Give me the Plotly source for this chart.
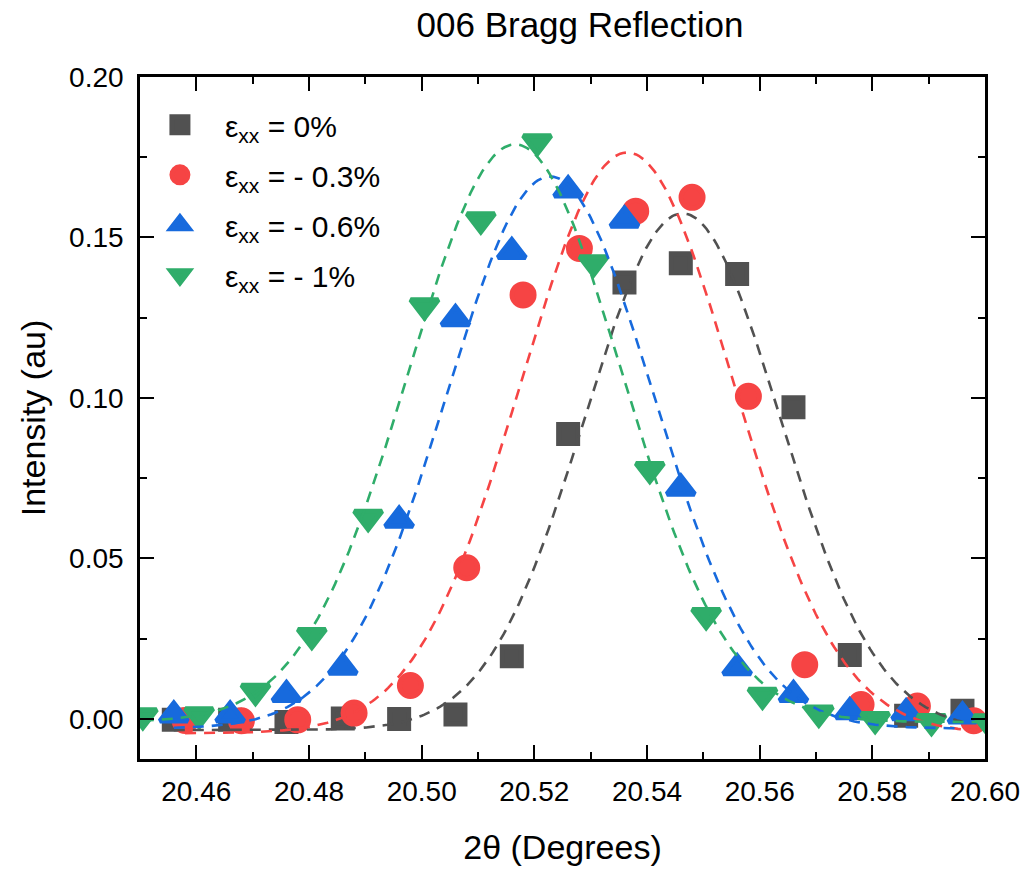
import numpy as np
import plotly.graph_objects as go

# ---------------- data ----------------
x_gray = [20.456, 20.466, 20.476, 20.486, 20.496, 20.506, 20.516, 20.526,
          20.536, 20.546, 20.556, 20.566, 20.576, 20.586, 20.596]
y_gray = [-0.0003, -0.0003, -0.0010, 0.0001, 0.0000, 0.0014, 0.0195, 0.0888,
          0.1360, 0.1420, 0.1386, 0.0971, 0.0199, 0.0010, 0.0025]

x_red = [20.458, 20.468, 20.478, 20.488, 20.498, 20.508, 20.518, 20.528,
         20.538, 20.548, 20.558, 20.568, 20.578, 20.588, 20.598]
y_red = [-0.0005, -0.0006, -0.0003, 0.0018, 0.0104, 0.0471, 0.1321, 0.1466,
         0.1582, 0.1625, 0.1005, 0.0169, 0.0045, 0.0040, -0.0006]

x_blue = [20.456, 20.466, 20.476, 20.486, 20.496, 20.506, 20.516, 20.526,
          20.536, 20.546, 20.556, 20.566, 20.576, 20.586, 20.596]
y_blue = [0.0012, 0.0012, 0.0076, 0.0161, 0.0619, 0.1247, 0.1456, 0.1648,
          0.1554, 0.0719, 0.0159, 0.0076, 0.0022, 0.0019, 0.0009]

x_green = [20.4505, 20.4605, 20.4705, 20.4805, 20.4905, 20.5005, 20.5105, 20.5205,
           20.5305, 20.5405, 20.5505, 20.5605, 20.5705, 20.5805, 20.5905, 20.6005]
y_green = [0.0010, 0.0013, 0.0086, 0.0260, 0.0628, 0.1287, 0.1555, 0.1798,
           0.1421, 0.0777, 0.0322, 0.0074, 0.0018, -0.0002, -0.0008, -0.0009]

series_names = ["ε<sub>xx</sub> = 0%", "ε<sub>xx</sub> = - 0.3%",
                "ε<sub>xx</sub> = - 0.6%", "ε<sub>xx</sub> = - 1%"]

# Gaussian fit parameters (baseline y0, amplitude A, centre xc, sigma)
fit_y0 = [-0.0035, -0.0045, -0.0030, -0.0010]
fit_A = [0.161, 0.181, 0.172, 0.180]
fit_xc = [20.5463, 20.5365, 20.5228, 20.5166]
fit_sigma = [0.0173, 0.0188, 0.0183, 0.0189]

x_ticks = [20.46, 20.48, 20.50, 20.52, 20.54, 20.56, 20.58, 20.60]
y_ticks = [0.00, 0.05, 0.10, 0.15, 0.20]

# ---------------- styling ----------------
colors = ["#515151", "#F64444", "#176ADD", "#2FAD6A"]
symbols = ["square", "circle", "triangle-up", "triangle-down"]
sizes = [19, 22, 24, 24]
outline = 5
FONT = "Liberation Sans, Arial, sans-serif"

xs = [x_gray, x_red, x_blue, x_green]
ys = [y_gray, y_red, y_blue, y_green]

fig = go.Figure()

for i in range(4):
    fig.add_trace(go.Scatter(
        x=xs[i], y=ys[i], mode="markers", name=series_names[i],
        legendgroup=f"g{i}",
        marker=dict(symbol=symbols[i], size=sizes[i], color=colors[i],
                    line=dict(width=outline, color=colors[i])),
    ))

for i in range(4):
    xf = np.linspace(min(xs[i]), max(xs[i]), 300)
    yf = fit_y0[i] + fit_A[i] * np.exp(-(xf - fit_xc[i]) ** 2 / (2 * fit_sigma[i] ** 2))
    fig.add_trace(go.Scatter(
        x=xf, y=yf, mode="lines", showlegend=False, legendgroup=f"g{i}",
        line=dict(color=colors[i], width=2.6, dash="11px,8px"),
        hoverinfo="skip",
    ))

axis_common = dict(
    showline=True, linecolor="black", linewidth=2.6, mirror="ticks",
    ticks="inside", ticklen=14, tickwidth=2.4, tickcolor="black",
    showgrid=False, zeroline=False,
    tickfont=dict(family=FONT, size=28, color="black"),
    tickformat=".2f",
)

fig.update_xaxes(
    **axis_common,
    range=[20.45, 20.60], tickvals=x_ticks,
    minor=dict(dtick=0.01, tick0=20.45, ticks="inside", ticklen=7,
               tickwidth=2.4, tickcolor="black", showgrid=False),
    title=dict(text="2θ (Degrees)", font=dict(family=FONT, size=34, color="black"),
               standoff=29),
    ticklabelstandoff=6,
)
fig.update_yaxes(
    **axis_common,
    range=[-0.0125, 0.20], tickvals=y_ticks,
    minor=dict(dtick=0.025, tick0=0, ticks="inside", ticklen=7,
               tickwidth=2.4, tickcolor="black", showgrid=False),
    title=dict(text="Intensity (au)", font=dict(family=FONT, size=34, color="black"),
               standoff=14),
    ticklabelstandoff=8,
)

fig.update_layout(
    width=1032, height=872,
    margin=dict(l=140, r=40, t=77, b=110),
    paper_bgcolor="white", plot_bgcolor="white",
    title=dict(text="006 Bragg Reflection", x=0.562, xanchor="center",
               y=0.972, yanchor="middle",
               font=dict(family=FONT, size=35, color="black")),
    legend=dict(x=-0.006, y=0.968, xanchor="left", yanchor="top",
                bgcolor="rgba(0,0,0,0)", borderwidth=0,
                font=dict(family=FONT, size=30, color="black"),
                itemwidth=80, tracegroupgap=8),
    showlegend=True,
)

fig.write_html("out.html", config={"displayModeBar": False},
               post_script="document.body.style.margin='0px';")
